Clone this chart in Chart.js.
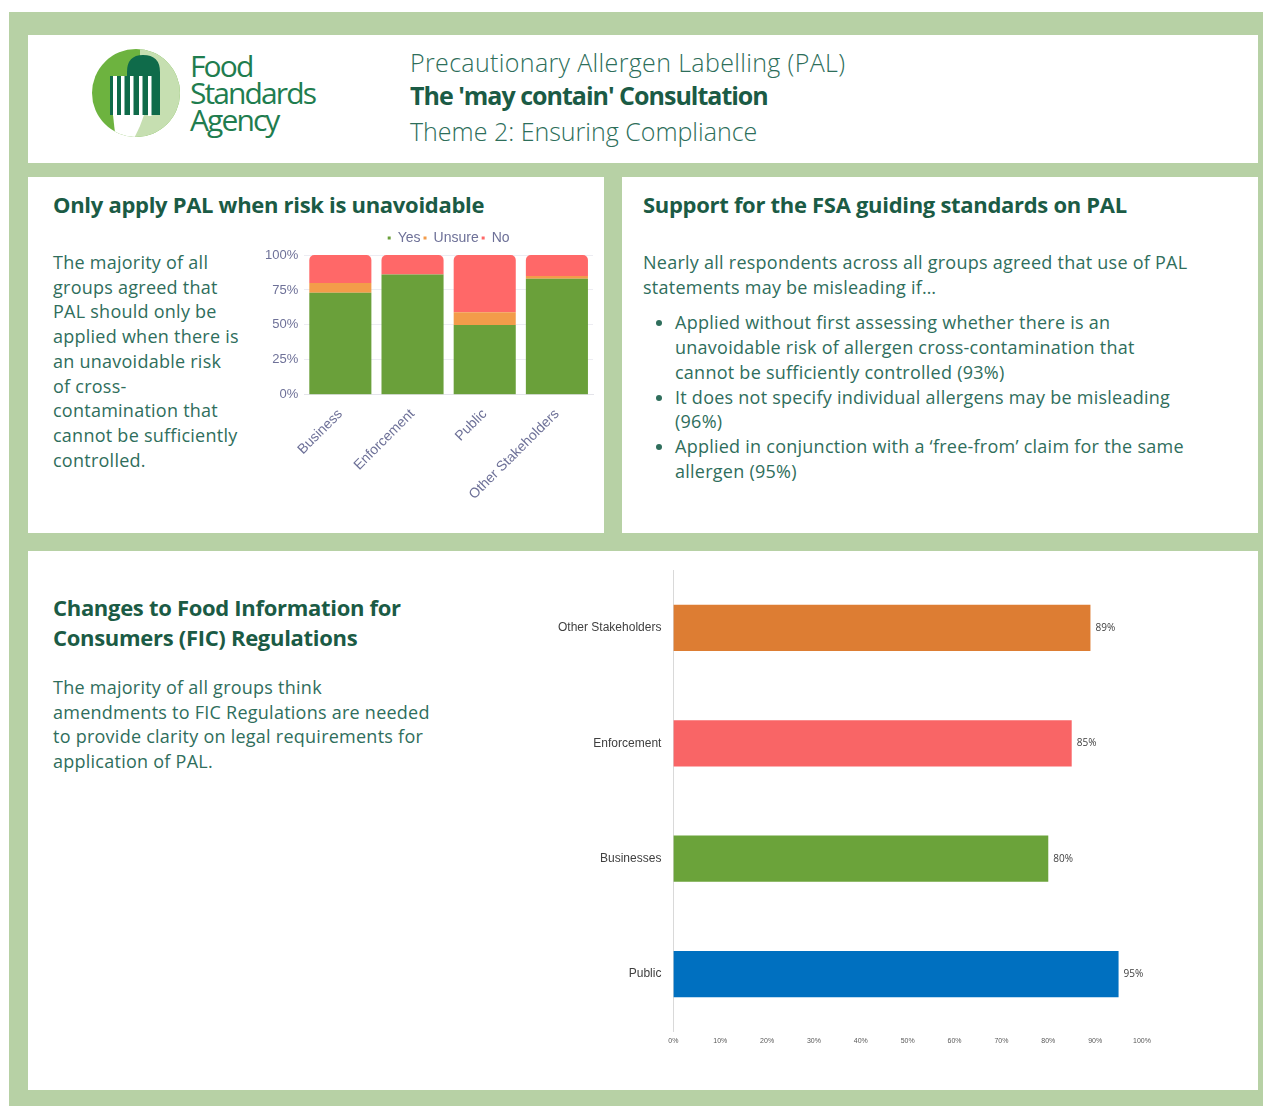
<!DOCTYPE html>
<html>
<head>
<meta charset="utf-8">
<script src="https://cdn.jsdelivr.net/npm/chart.js@4"></script>
<style>
    body { margin: 0; width: 1263px; height: 1106px; background: #fff; font-family: "Open Sans", sans-serif; position: relative; overflow: hidden; }
    .frame { position: absolute; left: 9px; top: 12px; width: 1254px; height: 1094px; background: #b7d1a5; }
    .panel { position: absolute; background: #fff; }
    .head { color: #1b5b45; font-weight: 700; font-size: 22px; letter-spacing: -0.3px; position: absolute; }
    .body { color: #2f6e5c; font-size: 18px; font-weight: 400; line-height: 24.7px; letter-spacing: 0.25px; position: absolute; }
    .title { position: absolute; left: 410px; color: #2d6e5a; font-size: 25px; font-weight: 300; white-space: nowrap; }
    ul { margin: 0; padding-left: 32px; }
    li { margin: 0; }
</style>
</head>
<body>
<div class="frame"></div>
<div class="panel" style="left:28px;top:35px;width:1230px;height:128px;"></div>
<div class="panel" style="left:28px;top:177px;width:576px;height:356px;"></div>
<div class="panel" style="left:622px;top:177px;width:636px;height:356px;"></div>
<div class="panel" style="left:28px;top:551px;width:1230px;height:539px;"></div>

<!-- logo -->
<svg style="position:absolute;left:88px;top:46px" width="100" height="96" viewBox="0 0 100 96">
    <defs><clipPath id="c"><circle cx="48" cy="47" r="44"/></clipPath></defs>
    <g clip-path="url(#c)">
        <rect x="0" y="0" width="100" height="96" fill="#6db33f"/>
        <path d="M52 0 L100 0 L100 96 L40 96 Q60 70 52 40 Z" fill="#c6dfb1"/>
        <path d="M22 69 L22 30 L39 30 L39 26 Q39 9 55 9 Q72 9 72 26 L72 69 Z" fill="#0f6b4a"/>
        <rect x="25" y="30" width="4" height="40" fill="#fff"/>
        <rect x="33" y="30" width="3.5" height="40" fill="#fff"/>
        <rect x="42" y="30" width="3.5" height="40" fill="#fff"/>
        <rect x="51" y="30" width="3.5" height="40" fill="#fff"/>
        <rect x="60" y="30" width="3.5" height="40" fill="#fff"/>
        <path d="M25 69 L56 69 Q52 82 44 96 L28 96 Z" fill="#fff"/>
    </g>
</svg>
<div style="position:absolute;left:190px;top:52px;color:#1f7d4f;font-size:30px;line-height:27px;letter-spacing:-1.9px;font-family:'Open Sans',sans-serif;">Food<br>Standards<br>Agency</div>

<div class="title" style="top:45px;letter-spacing:0.35px;">Precautionary Allergen Labelling (PAL)</div>
<div class="title" style="top:78px;font-weight:700;color:#1b5b45;letter-spacing:-1px;">The 'may contain' Consultation</div>
<div class="title" style="top:114px;">Theme 2: Ensuring Compliance</div>

<div class="head" style="left:53px;top:189px;">Only apply PAL when risk is unavoidable</div>
<div class="body" style="left:53px;top:250px;width:190px;">The majority of all groups agreed that PAL should only be applied when there is an unavoidable risk of cross-contamination that cannot be sufficiently controlled.</div>
<div style="position:absolute;left:259px;top:228px;width:336px;height:278px;"><canvas id="palChart"></canvas></div>

<div class="head" style="left:643px;top:189px;">Support for the FSA guiding standards on PAL</div>
<div class="body" style="left:643px;top:250px;width:550px;">Nearly all respondents across all groups agreed that use of PAL statements may be misleading if…
    <ul style="margin-top:11px;">
        <li>Applied without first assessing whether there is an unavoidable risk of allergen cross-contamination that cannot be sufficiently controlled (93%)</li>
        <li>It does not specify individual allergens may be misleading (96%)</li>
        <li>Applied in conjunction with a ‘free-from’ claim for the same allergen (95%)</li>
    </ul>
</div>

<div class="head" style="left:53px;top:592px;line-height:30px;">Changes to Food Information for<br>Consumers (FIC) Regulations</div>
<div class="body" style="left:53px;top:675px;width:385px;">The majority of all groups think amendments to FIC Regulations are needed to provide clarity on legal requirements for application of PAL.</div>
<div style="position:absolute;left:546px;top:551px;width:614px;height:500px;"><canvas id="ficChart"></canvas></div>

<script>
const palGroups = ['Business', 'Enforcement', 'Public', 'Other Stakeholders'];
const palYes = [73, 86, 50, 83];
const palUnsure = [7, 0, 9, 2];
const palNo = [20, 14, 41, 15];
const palTicks = [0, 25, 50, 75, 100];

const ficGroups = ['Other Stakeholders', 'Enforcement', 'Businesses', 'Public'];
const ficAgree = [89, 85, 80, 95];
const ficColors = ['#dd7d33', '#f96566', '#6ba33a', '#0070c0'];

const tickColor = '#6e7198';

new Chart(document.getElementById('palChart'), {
    type: 'bar',
    data: {
        labels: palGroups,
        datasets: [
            { label: 'Yes', data: palYes, backgroundColor: '#6aa03a' },
            { label: 'Unsure', data: palUnsure, backgroundColor: '#f39c4a' },
            { label: 'No', data: palNo, backgroundColor: '#ff6868', borderRadius: { topLeft: 5, topRight: 5 }, borderSkipped: 'bottom' }
        ]
    },
    options: {
        responsive: true,
        maintainAspectRatio: false,
        animation: false,
        barPercentage: 0.86,
        categoryPercentage: 1,
        layout: { padding: { left: 0, right: 2 } },
        plugins: {
            legend: {
                fullSize: false,
                labels: { color: tickColor, font: { size: 14 }, boxWidth: 3, boxHeight: 3, padding: 3 }
            },
            tooltip: { enabled: false }
        },
        scales: {
            x: {
                stacked: true,
                grid: { display: false },
                border: { color: '#e4e4ea' },
                ticks: { color: tickColor, font: { size: 14 }, maxRotation: 45, minRotation: 45 }
            },
            y: {
                stacked: true,
                min: 0, max: 100,
                afterBuildTicks: axis => { axis.ticks = palTicks.map(v => ({ value: v })); },
                grid: { color: '#ececf2', drawTicks: false },
                border: { display: false },
                ticks: { color: tickColor, font: { size: 13 }, padding: 6, callback: v => v + '%' }
            }
        }
    }
});

const endLabels = {
    id: 'endLabels',
    afterDatasetsDraw(chart) {
        const ctx = chart.ctx;
        ctx.save();
        ctx.fillStyle = '#404040';
        ctx.font = '10px "Open Sans", sans-serif';
        ctx.textBaseline = 'middle';
        chart.getDatasetMeta(0).data.forEach((bar, i) => {
            ctx.fillText(chart.data.datasets[0].data[i] + '%', bar.x + 5, bar.y);
        });
        ctx.restore();
    }
};

new Chart(document.getElementById('ficChart'), {
    type: 'bar',
    data: {
        labels: ficGroups,
        datasets: [{ label: 'Agree', data: ficAgree, backgroundColor: ficColors }]
    },
    options: {
        indexAxis: 'y',
        responsive: true,
        maintainAspectRatio: false,
        animation: false,
        barPercentage: 0.4,
        categoryPercentage: 1,
        layout: { padding: { top: 5, right: 18 } },
        plugins: { legend: { display: false }, tooltip: { enabled: false } },
        scales: {
            x: {
                min: 0, max: 100,
                grid: { display: false, drawTicks: false },
                border: { display: false },
                ticks: { stepSize: 10, color: '#595959', font: { size: 7 }, padding: 5, callback: v => v + '%' }
            },
            y: {
                grid: { display: false, drawTicks: false },
                border: { color: '#d9d9d9' },
                ticks: { color: '#404040', font: { size: 12 }, padding: 12 }
            }
        }
    },
    plugins: [endLabels]
});
</script>
</body>
</html>
